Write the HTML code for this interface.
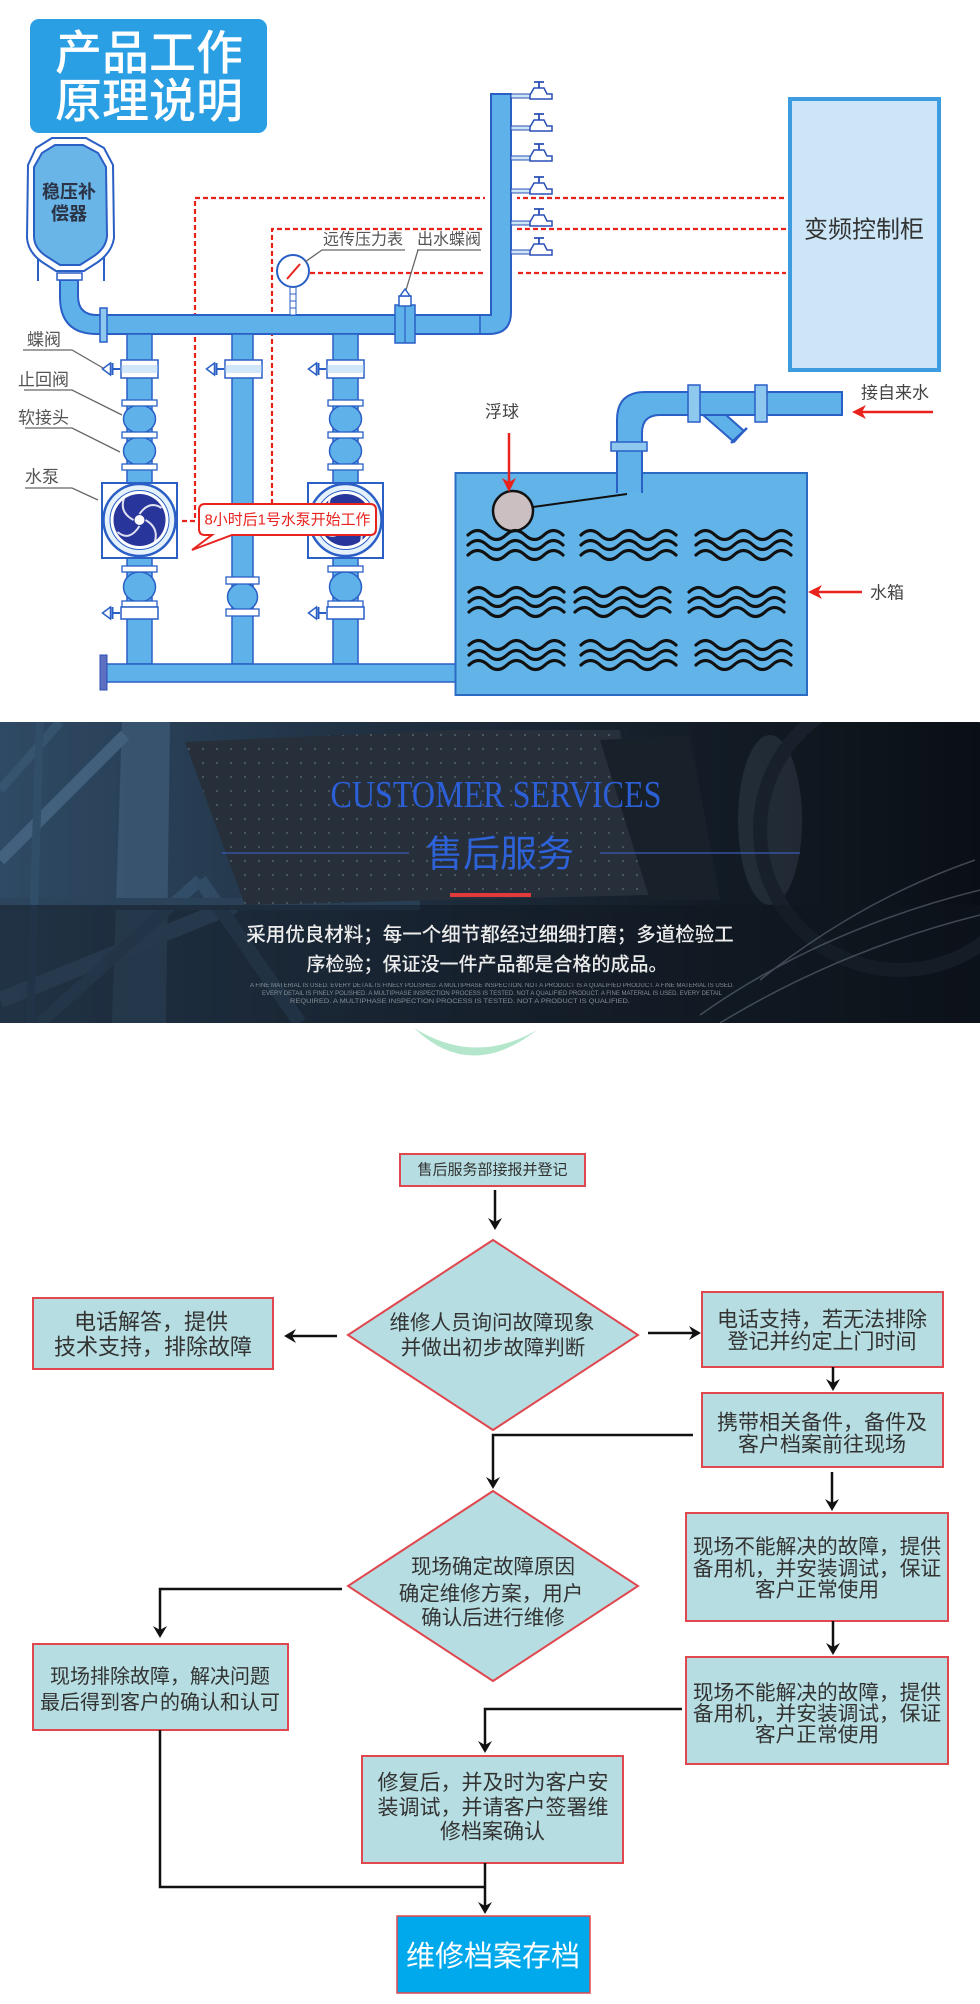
<!DOCTYPE html>
<html><head><meta charset="utf-8"><style>
html,body{margin:0;padding:0;background:#fff;}
svg{display:block;}
text{font-family:"Liberation Sans","Noto Sans CJK SC",sans-serif;}
text.serif{font-family:"Liberation Serif","Noto Serif CJK SC",serif;}
</style></head><body>
<svg width="980" height="2004" viewBox="0 0 980 2004" xmlns="http://www.w3.org/2000/svg">
<defs>
 <g id="tap">
  <rect x="511" y="-4" width="19" height="4" fill="#cfe6f7" stroke="#2a4fb5" stroke-width="1"/>
  <path d="M530,1 L530,-3 L534,-10 L544,-10 L547,-4 L552,-4 L552,1 Z" fill="#fff" stroke="#2a4fb5" stroke-width="1.5"/>
  <path d="M534,-16 L544,-16 M539,-16 L539,-10" stroke="#2a4fb5" stroke-width="1.8" fill="none"/>
 </g>
 <g id="pump">
  <rect x="-37.5" y="-37" width="75" height="75" fill="#fff" stroke="#2a5fc6" stroke-width="2"/>
  <circle r="36" fill="#e6f2fb" stroke="#2a5fc6" stroke-width="2.5"/>
  <circle r="29.5" fill="#fff" stroke="#2a5fc6" stroke-width="1"/>
  <circle r="26" fill="#28369b"/>
  <path d="M0,-6 Q10,-20 22,-12 M6,0 Q20,8 15,23 M0,6 Q-10,22 -22,12 M-6,0 Q-21,-8 -15,-23" stroke="#fff" stroke-width="2" fill="none" opacity=".85"/>
  <circle r="5" fill="#fff"/>
 </g>
 <g id="handle">
  <line x1="-19.5" y1="0" x2="-28" y2="0" stroke="#2a5fc6" stroke-width="2"/>
  <line x1="-27" y1="-6" x2="-27" y2="6" stroke="#2a5fc6" stroke-width="2"/>
  <path d="M-37,0 L-29,-6 L-29,6 Z" fill="#fff" stroke="#2a5fc6" stroke-width="1.5"/>
 </g>
 <g id="col">
  <rect x="-12.5" y="334" width="25" height="330" fill="#5fb2e9" stroke="#2a5fc6" stroke-width="1.5"/>
  <ellipse cx="0" cy="419" rx="16" ry="14" fill="#5fb2e9" stroke="#2a5fc6" stroke-width="1.5"/>
  <ellipse cx="0" cy="451" rx="16" ry="14" fill="#5fb2e9" stroke="#2a5fc6" stroke-width="1.5"/>
  <ellipse cx="0" cy="587" rx="16" ry="15" fill="#5fb2e9" stroke="#2a5fc6" stroke-width="1.5"/>
  <rect x="-18.5" y="360" width="37" height="18" fill="#fff" stroke="#2a5fc6" stroke-width="1.5"/>
  <rect x="-18" y="365" width="36" height="8" fill="#cfe7f8"/>
  <use href="#handle" y="369"/>
  <rect x="-17.5" y="400" width="35" height="6" fill="#fff" stroke="#2a5fc6" stroke-width="1.3"/>
  <rect x="-17.5" y="432" width="35" height="6" fill="#fff" stroke="#2a5fc6" stroke-width="1.3"/>
  <rect x="-17.5" y="464" width="35" height="6" fill="#fff" stroke="#2a5fc6" stroke-width="1.3"/>
  <rect x="-17.5" y="566" width="35" height="6" fill="#fff" stroke="#2a5fc6" stroke-width="1.3"/>
  <rect x="-17.5" y="601" width="35" height="6" fill="#fff" stroke="#2a5fc6" stroke-width="1.3"/>
  <rect x="-18.5" y="607" width="37" height="12" fill="#fff" stroke="#2a5fc6" stroke-width="1.5"/>
  <use href="#handle" y="613"/>
  <use href="#pump" y="520"/>
 </g>
 <g id="waves" fill="none" stroke="#111" stroke-width="3.2" stroke-linecap="round">
  <path d="M0,0 q9.5,-9 19,0 t19,0 t19,0 t19,0 t19,0"/>
  <path d="M0,10 q9.5,-9 19,0 t19,0 t19,0 t19,0 t19,0"/>
  <path d="M0,20 q9.5,-9 19,0 t19,0 t19,0 t19,0 t19,0"/>
 </g>
 <pattern id="dots" width="14" height="14" patternUnits="userSpaceOnUse"><circle cx="7" cy="7" r="1.1" fill="#4e5966"/></pattern>
 <linearGradient id="lg" x1="0" x2="1" y1="0" y2="0">
  <stop offset="0" stop-color="#2f4a64"/><stop offset="0.4" stop-color="#1f2f40"/><stop offset="0.72" stop-color="#131c26"/><stop offset="1" stop-color="#0a0f15"/>
 </linearGradient>
 <clipPath id="bclip"><rect x="0" y="722" width="980" height="301"/></clipPath>
</defs>

<!-- ===== TOP DIAGRAM ===== -->
<rect x="30" y="19" width="237" height="114" rx="9" fill="#2b9fe4"/>
<text x="149" y="53" font-size="47" fill="#fff" text-anchor="middle" dominant-baseline="central" font-weight="500">产品工作</text>
<text x="149" y="101" font-size="47" fill="#fff" text-anchor="middle" dominant-baseline="central" font-weight="500">原理说明</text>

<!-- pressure tank -->
<line x1="38" y1="240" x2="38" y2="281" stroke="#2a5fc6" stroke-width="2"/>
<line x1="104" y1="240" x2="104" y2="281" stroke="#2a5fc6" stroke-width="2"/>
<path d="M52,138 L86,138 L104,148 L113,165 L114,238 Q112,252 98,262 L84,271 L56,271 L42,262 Q28,252 27,238 L28,165 L36,148 Z" fill="#fff" stroke="#2a5fc6" stroke-width="2"/>
<path d="M55,145 L83,145 L98,153 L106,167 L107,236 Q106,248 94,256 L80,265 L60,265 L46,256 Q34,248 34,236 L34,167 L42,153 Z" fill="#6ab5e8" stroke="#2a5fc6" stroke-width="2"/>
<text x="69" y="192" font-size="18" font-weight="bold" fill="#2b3446" text-anchor="middle" dominant-baseline="central">稳压补</text>
<text x="69" y="214" font-size="18" font-weight="bold" fill="#2b3446" text-anchor="middle" dominant-baseline="central">偿器</text>

<!-- red dashed control lines -->
<g fill="none" stroke="#e8231d" stroke-width="2.2" stroke-dasharray="5,3">
 <path d="M182,521 L195,521 L195,198 L786,198"/>
 <path d="M272,504 L272,229 L786,229"/>
 <path d="M310,273 L786,273"/>
</g>
<rect x="485" y="190" width="32" height="90" fill="#fff"/>

<!-- main pipe -->
<path d="M60,280 L78,280 L78,296 Q78,315 97,315 L491,315 L491,94 L511,94 L511,312 Q511,334 489,334 L97,334 Q60,334 60,297 Z" fill="#5fb2e9" stroke="#2a5fc6" stroke-width="2"/>
<line x1="480" y1="315" x2="480" y2="334" stroke="#2a5fc6" stroke-width="1.5"/>
<rect x="57" y="273" width="25" height="7" fill="#fff" stroke="#2a5fc6" stroke-width="1.5"/>
<rect x="100" y="308" width="7" height="34" fill="#8ec8ef" stroke="#2a5fc6" stroke-width="1.5"/>

<!-- taps -->
<use href="#tap" y="98"/><use href="#tap" y="130"/><use href="#tap" y="160"/>
<use href="#tap" y="193"/><use href="#tap" y="225"/><use href="#tap" y="254"/>

<!-- gauge -->
<rect x="290" y="287" width="6" height="28" fill="#fff" stroke="#2a5fc6" stroke-width="1"/>
<path d="M290,294 H296 M290,301 H296 M290,308 H296" stroke="#2a5fc6" stroke-width="1"/>
<circle cx="293" cy="271" r="16" fill="#fff" stroke="#2a5fc6" stroke-width="2"/>
<line x1="287" y1="279" x2="300" y2="264" stroke="#e8231d" stroke-width="2"/>
<path d="M305,262 L322,250 L405,250" stroke="#666" stroke-width="1.3" fill="none"/>
<text x="323" y="240" font-size="16" fill="#555" dominant-baseline="central">远传压力表</text>
<!-- outlet valve -->
<path d="M417,250 L481,250 M418,250 L406,290" stroke="#666" stroke-width="1.3" fill="none"/>
<text x="417" y="240" font-size="16" fill="#555" dominant-baseline="central">出水蝶阀</text>
<rect x="395" y="305" width="20" height="38" fill="#5fb2e9" stroke="#2a5fc6" stroke-width="1.5"/>
<line x1="405" y1="305" x2="405" y2="343" stroke="#2a5fc6" stroke-width="1.2"/>
<rect x="399" y="296" width="12" height="10" fill="#fff" stroke="#2a5fc6" stroke-width="1.5"/>
<path d="M405,289 L400,296 L410,296 Z" fill="#fff" stroke="#2a5fc6" stroke-width="1.5"/>

<!-- columns -->
<g transform="translate(139.5,0)"><use href="#col"/></g>
<g transform="translate(345.5,0)"><use href="#col"/></g>
<!-- middle column -->
<rect x="232" y="334" width="21" height="330" fill="#5fb2e9" stroke="#2a5fc6" stroke-width="1.5"/>
<ellipse cx="242.5" cy="597" rx="15" ry="14" fill="#5fb2e9" stroke="#2a5fc6" stroke-width="1.5"/>
<rect x="225" y="360" width="37" height="18" fill="#fff" stroke="#2a5fc6" stroke-width="1.5"/>
<rect x="225.5" y="365" width="36" height="8" fill="#cfe7f8"/>
<g transform="translate(243.5,369)"><use href="#handle"/></g>
<rect x="226" y="577" width="33" height="7" fill="#fff" stroke="#2a5fc6" stroke-width="1.3"/>
<rect x="226" y="609" width="33" height="7" fill="#fff" stroke="#2a5fc6" stroke-width="1.3"/>

<!-- bottom pipe -->
<rect x="103" y="664" width="354" height="18" fill="#5fb2e9" stroke="#2a5fc6" stroke-width="1.5"/>
<rect x="100" y="655" width="7" height="35" fill="#5c6fc0" stroke="#2a4fb5" stroke-width="1"/>

<!-- left labels -->
<g font-size="17" fill="#555">
 <text x="27" y="340" dominant-baseline="central">蝶阀</text>
 <text x="18" y="380" dominant-baseline="central">止回阀</text>
 <text x="18" y="418" dominant-baseline="central">软接头</text>
 <text x="25" y="477" dominant-baseline="central">水泵</text>
</g>
<g stroke="#666" stroke-width="1.3" fill="none">
 <path d="M23,350 L72,350 L103,368"/>
 <path d="M24,390 L72,390 L122,415"/>
 <path d="M25,428 L72,428 L120,452"/>
 <path d="M25,488 L72,488 L98,500"/>
</g>

<!-- callout -->
<path d="M205,504 L370,504 Q376,504 376,510 L376,529 Q376,535 370,535 L232,535 L192,550 L212,535 L205,535 Q199,535 199,529 L199,510 Q199,504 205,504 Z" fill="#fff" stroke="#e8231d" stroke-width="2"/>
<text x="287.5" y="520" font-size="15" fill="#e8231d" text-anchor="middle" dominant-baseline="central" textLength="166" lengthAdjust="spacingAndGlyphs">8小时后1号水泵开始工作</text>

<!-- control cabinet -->
<rect x="790" y="99" width="149" height="271" fill="#cde6f7" stroke="#3d9be0" stroke-width="4"/>
<text x="864" y="230" font-size="24" fill="#333" text-anchor="middle" dominant-baseline="central">变频控制柜</text>

<!-- water tank -->
<rect x="455.5" y="473" width="351.5" height="222" fill="#62b4e8" stroke="#2c6bc4" stroke-width="2"/>
<!-- inlet pipe -->
<path d="M617,493 L617,420 Q617,392 645,392 L842,392 L842,415 L660,415 Q642,415 642,433 L642,493" fill="#5fb2e9" stroke="#2a5fc6" stroke-width="2"/>
<path d="M703,415 L726,415 L744,431 L734,442 Z" fill="#5fb2e9" stroke="#2a5fc6" stroke-width="2"/>
<line x1="731" y1="443" x2="747" y2="428" stroke="#2a5fc6" stroke-width="2.5"/>
<rect x="688" y="385" width="12" height="37" fill="#8ec8ef" stroke="#2a5fc6" stroke-width="1.5"/>
<rect x="755" y="385" width="12" height="37" fill="#8ec8ef" stroke="#2a5fc6" stroke-width="1.5"/>
<rect x="611" y="442" width="36" height="9" fill="#8ec8ef" stroke="#2a5fc6" stroke-width="1.5"/>
<line x1="533" y1="507" x2="627" y2="494" stroke="#111" stroke-width="2"/>
<circle cx="513" cy="511" r="20" fill="#cbbfc2" stroke="#111" stroke-width="2.5"/>
<!-- waves -->
<use href="#waves" transform="translate(468,535)"/>
<use href="#waves" transform="translate(581,535)"/>
<use href="#waves" transform="translate(696,535)"/>
<use href="#waves" transform="translate(469,592)"/>
<use href="#waves" transform="translate(575,592)"/>
<use href="#waves" transform="translate(689,592)"/>
<use href="#waves" transform="translate(469,645)"/>
<use href="#waves" transform="translate(581,645)"/>
<use href="#waves" transform="translate(696,645)"/>

<!-- tank labels and red arrows -->
<text x="502" y="412" font-size="17" fill="#444" text-anchor="middle" dominant-baseline="central">浮球</text>
<line x1="509" y1="433" x2="509" y2="484" stroke="#e8231d" stroke-width="2.5"/>
<path d="M509,492 L502,478 L509,482 L516,478 Z" fill="#e8231d"/>
<text x="861" y="393" font-size="17" fill="#444" dominant-baseline="central">接自来水</text>
<line x1="933" y1="412" x2="860" y2="412" stroke="#e8231d" stroke-width="2.5"/>
<path d="M852,412 L866,405 L862,412 L866,419 Z" fill="#e8231d"/>
<text x="870" y="593" font-size="17" fill="#444" dominant-baseline="central">水箱</text>
<line x1="862" y1="592" x2="816" y2="592" stroke="#e8231d" stroke-width="2.5"/>
<path d="M808,592 L822,585 L818,592 L822,599 Z" fill="#e8231d"/>

<!-- ===== BANNER ===== -->
<g clip-path="url(#bclip)">
<rect x="0" y="722" width="980" height="301" fill="url(#lg)"/>
<g opacity="0.75">
 <polygon points="122,722 170,722 166,1023 112,1023" fill="#3d5a76"/>
 <line x1="0" y1="860" x2="125" y2="735" stroke="#4a6a88" stroke-width="12"/>
 <line x1="0" y1="1000" x2="235" y2="905" stroke="#405e7b" stroke-width="16"/>
 <line x1="40" y1="1023" x2="200" y2="880" stroke="#36536f" stroke-width="12"/>
 <line x1="200" y1="880" x2="300" y2="1023" stroke="#34506a" stroke-width="14"/>
 <line x1="0" y1="790" x2="60" y2="722" stroke="#3a5874" stroke-width="9"/>
 <rect x="0" y="898" width="420" height="12" fill="#2c445b"/>
 <line x1="40" y1="722" x2="30" y2="1023" stroke="#33506b" stroke-width="8"/>
</g>
<polygon points="185,742 455,730 620,730 650,895 245,905" fill="#262f3a"/>
<polygon points="185,742 455,730 620,730 650,895 245,905" fill="url(#dots)"/>
<polygon points="600,740 690,735 720,900 650,900" fill="#18212a"/>
<ellipse cx="770" cy="820" rx="32" ry="85" fill="#4a5664" opacity="0.3"/>
<circle cx="900" cy="830" r="140" fill="none" stroke="#18212b" stroke-width="14"/>
<rect x="0" y="905" width="980" height="118" fill="#0f171f" opacity="0.45"/>
<line x1="250" y1="1023" x2="980" y2="920" stroke="#27374700" stroke-width="10"/>
<g stroke="#8d9aa6" stroke-width="1.5" fill="none" opacity="0.4">
 <path d="M700,1015 Q820,930 980,890"/>
 <path d="M720,1023 Q840,950 980,915"/>
 <path d="M760,980 Q860,900 975,860"/>
</g>
</g>
<text class="serif" x="496" y="807" font-size="38" fill="#2c5fd6" text-anchor="middle" textLength="331" lengthAdjust="spacingAndGlyphs">CUSTOMER SERVICES</text>
<line x1="222" y1="853" x2="409" y2="853" stroke="#3a5bb8" stroke-width="1.2"/>
<line x1="600" y1="853" x2="800" y2="853" stroke="#3a5bb8" stroke-width="1.2"/>
<text x="500" y="854" font-size="37" fill="#2e62d8" text-anchor="middle" dominant-baseline="central">售后服务</text>
<rect x="450" y="893" width="81" height="4" fill="#e03a3a"/>
<text x="490" y="935" font-size="19.5" fill="#ececec" text-anchor="middle" dominant-baseline="central" font-weight="500">采用优良材料；每一个细节都经过细细打磨；多道检验工</text>
<text x="487" y="965" font-size="19" fill="#ececec" text-anchor="middle" dominant-baseline="central" font-weight="500">序检验；保证没一件产品都是合格的成品。</text>
<g font-size="6" fill="#a0a8b0" opacity="0.8" text-anchor="middle">
 <text x="492" y="987" textLength="484" lengthAdjust="spacingAndGlyphs">A FINE MATERIAL IS USED. EVERY DETAIL IS FINELY POLISHED. A MULTIPHASE INSPECTION. NOT A PRODUCT IS A QUALIFIED PRODUCT. A FINE MATERIAL IS USED.</text>
 <text x="492" y="995" textLength="460" lengthAdjust="spacingAndGlyphs">EVERY DETAIL IS FINELY POLISHED. A MULTIPHASE INSPECTION PROCESS IS TESTED. NOT A QUALIFIED PRODUCT. A FINE MATERIAL IS USED. EVERY DETAIL</text>
 <text x="460" y="1003" textLength="340" lengthAdjust="spacingAndGlyphs">REQUIRED. A MULTIPHASE INSPECTION PROCESS IS TESTED. NOT A PRODUCT IS QUALIFIED.</text>
</g>
<path d="M414,1028 Q470,1082 537,1030 Q475,1066 414,1028 Z" fill="#a6e2c2" opacity="0.85"/>

<!-- ===== FLOWCHART ===== -->
<g fill="#b6dde1" stroke="#e0474f" stroke-width="2">
 <rect x="400" y="1154" width="185" height="32"/>
 <polygon points="493,1240 638,1335 493,1430 348,1335"/>
 <rect x="33" y="1298" width="240" height="71"/>
 <rect x="702" y="1292" width="241" height="75"/>
 <rect x="702" y="1393" width="241" height="74"/>
 <polygon points="493,1491 638,1586 493,1681 348,1586"/>
 <rect x="33" y="1644" width="255" height="86"/>
 <rect x="686" y="1513" width="262" height="108"/>
 <rect x="686" y="1657" width="262" height="107"/>
 <rect x="362" y="1756" width="261" height="107"/>
</g>
<rect x="397" y="1916" width="193" height="77" fill="#00a9ec" stroke="#e0474f" stroke-width="1.5"/>

<g fill="none" stroke="#111" stroke-width="2.5">
 <path d="M495,1190 L495,1222"/>
 <path d="M337,1336 L292,1336"/>
 <path d="M648,1333 L693,1333"/>
 <path d="M833,1367 L833,1383"/>
 <path d="M693,1435 L493,1435 L493,1481"/>
 <path d="M832,1472 L832,1503"/>
 <path d="M342,1589 L160,1589 L160,1630"/>
 <path d="M833,1621 L833,1647"/>
 <path d="M160,1730 L160,1887 L485,1887"/>
 <path d="M682,1709 L485,1709 L485,1745"/>
 <path d="M485,1863 L485,1906"/>
</g>
<g fill="#111">
 <path d="M495,1230 L488,1218 L495,1222 L502,1218 Z"/>
 <path d="M284,1336 L296,1329 L292,1336 L296,1343 Z"/>
 <path d="M701,1333 L689,1326 L693,1333 L689,1340 Z"/>
 <path d="M833,1391 L826,1379 L833,1383 L840,1379 Z"/>
 <path d="M493,1489 L486,1477 L493,1481 L500,1477 Z"/>
 <path d="M832,1511 L825,1499 L832,1503 L839,1499 Z"/>
 <path d="M160,1638 L153,1626 L160,1630 L167,1626 Z"/>
 <path d="M833,1655 L826,1643 L833,1647 L840,1643 Z"/>
 <path d="M485,1753 L478,1741 L485,1745 L492,1741 Z"/>
 <path d="M485,1914 L478,1902 L485,1906 L492,1902 Z"/>
</g>

<g fill="#333" text-anchor="middle" dominant-baseline="central">
 <text x="492.5" y="1170" font-size="15">售后服务部接报并登记</text>
 <text x="492" y="1323" font-size="20.5">维修人员询问故障现象</text>
 <text x="493" y="1348" font-size="20.5">并做出初步故障判断</text>
 <text x="151" y="1322" font-size="22">电话解答，提供</text>
 <text x="153" y="1347" font-size="22">技术支持，排除故障</text>
 <text x="822" y="1320" font-size="21">电话支持，若无法排除</text>
 <text x="822" y="1342" font-size="21">登记并约定上门时间</text>
 <text x="822" y="1423" font-size="21">携带相关备件，备件及</text>
 <text x="822" y="1445" font-size="21">客户档案前往现场</text>
 <text x="493" y="1567" font-size="20.5">现场确定故障原因</text>
 <text x="491" y="1594" font-size="20.5">确定维修方案，用户</text>
 <text x="493" y="1618" font-size="20.5">确认后进行维修</text>
 <text x="160" y="1677" font-size="20">现场排除故障，解决问题</text>
 <text x="160" y="1703" font-size="20">最后得到客户的确认和认可</text>
 <text x="817" y="1547" font-size="20.7">现场不能解决的故障，提供</text>
 <text x="817" y="1569" font-size="20.7">备用机，并安装调试，保证</text>
 <text x="817" y="1590" font-size="20.7">客户正常使用</text>
 <text x="817" y="1693" font-size="20.7">现场不能解决的故障，提供</text>
 <text x="817" y="1714" font-size="20.7">备用机，并安装调试，保证</text>
 <text x="817" y="1735" font-size="20.7">客户正常使用</text>
 <text x="493" y="1783" font-size="21">修复后，并及时为客户安</text>
 <text x="493" y="1808" font-size="21">装调试，并请客户签署维</text>
 <text x="492.5" y="1832" font-size="21">修档案确认</text>
 <text x="493" y="1957" font-size="29" fill="#fff">维修档案存档</text>
</g>
</svg>
</body></html>
